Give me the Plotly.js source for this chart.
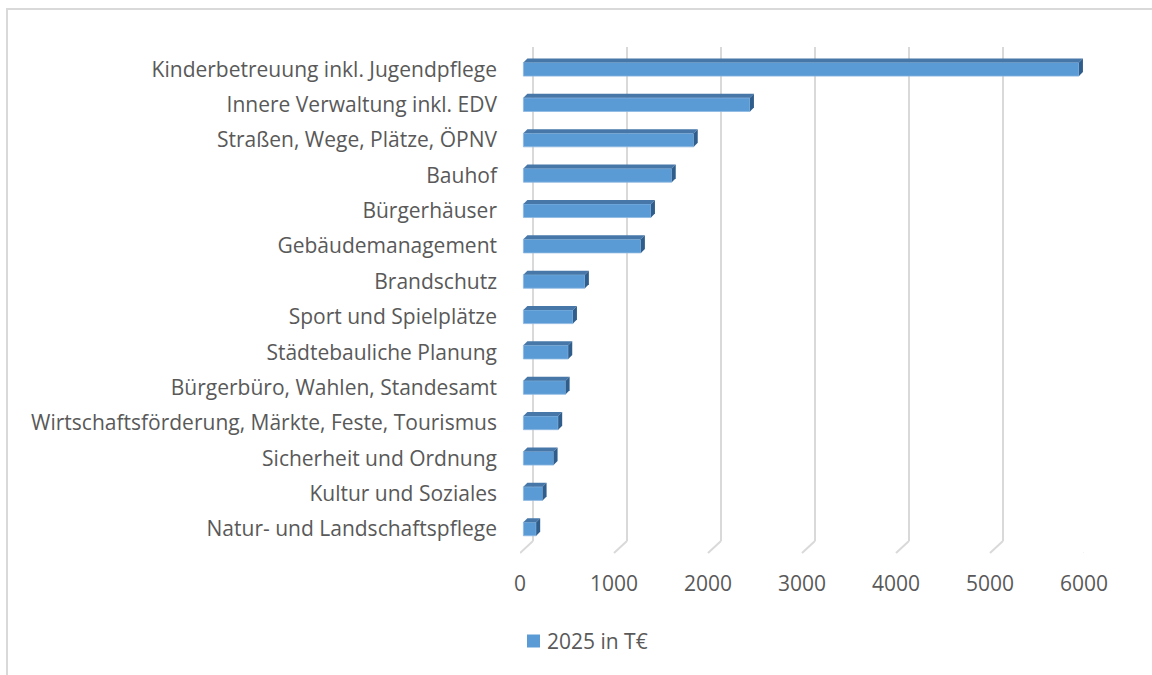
<!DOCTYPE html>
<html>
<head>
<meta charset="utf-8">
<script src="https://cdn.plot.ly/plotly-3.0.1.min.js"></script>
<style>
  html, body { margin: 0; padding: 0; background: #ffffff; overflow: hidden; }
  #chart { position: absolute; left: 0; top: 0; width: 1152px; height: 675px; }
  #frame { position: absolute; left: 6px; top: 8px; width: 1200px; height: 700px;
           border-left: 2px solid #d9d9d9; border-top: 2px solid #d9d9d9; pointer-events: none; }
</style>
</head>
<body>
<div id="chart"></div>
<div id="frame"></div>
<script>
// ---- data ----
const categories = [
  "Kinderbetreuung inkl. Jugendpflege",
  "Innere Verwaltung inkl. EDV",
  "Straßen, Wege, Plätze, ÖPNV",
  "Bauhof",
  "Bürgerhäuser",
  "Gebäudemanagement",
  "Brandschutz",
  "Sport und Spielplätze",
  "Städtebauliche Planung",
  "Bürgerbüro, Wahlen, Standesamt",
  "Wirtschaftsförderung, Märkte, Feste, Tourismus",
  "Sicherheit und Ordnung",
  "Kultur und Soziales",
  "Natur- und Landschaftspflege"
];
const values = [5910, 2410, 1812, 1578, 1357, 1250, 654, 527, 477, 449, 370, 321, 204, 136];
const xTicks = [0, 1000, 2000, 3000, 4000, 5000, 6000];
const seriesName = "2025 in T€";

// ---- geometry (styling) ----
const W = 1152, H = 675;
const mL = 520, mR = 68, mT = 47, mB = 122;
const plotW = W - mL - mR, plotH = H - mT - mB;
const xMax = 6000;
const yTop = -0.631, yBot = 13.68;
const pxX = plotW / xMax;
const pxY = plotH / (yBot - yTop);
const ux = px => px / pxX;
const uy = px => px / pxY;

const barHalf = uy(6.8);
const barBase = ux(3.4);
const dX = ux(4), dY = uy(4);
const gX = ux(13), gYpaper = 12 / plotH;

const pos = categories.map((c, i) => i);
const barColor = '#5b9bd5';

const shapes = [];
xTicks.forEach(t => {
  shapes.push({type: 'line', layer: 'below', xref: 'x', yref: 'paper',
    x0: t + gX, x1: t + gX, y0: gYpaper, y1: 1,
    line: {color: '#d9d9d9', width: 2}});
  shapes.push({type: 'line', layer: 'below', xref: 'x', yref: 'paper',
    x0: t, x1: t + gX, y0: 0, y1: gYpaper,
    line: {color: '#d9d9d9', width: 2}});
});
pos.forEach((p, i) => {
  const x0 = barBase, x1 = barBase + values[i];
  const yt = p - barHalf, yb = p + barHalf;
  shapes.push({type: 'path', layer: 'above', xref: 'x', yref: 'y',
    path: `M${x0},${yt} L${x1},${yt} L${x1 + dX},${yt - dY} L${x0 + dX},${yt - dY} Z`,
    fillcolor: '#4677a8', line: {width: 0}});
  shapes.push({type: 'path', layer: 'above', xref: 'x', yref: 'y',
    path: `M${x1},${yt} L${x1 + dX},${yt - dY} L${x1 + dX},${yb - dY} L${x1},${yb} Z`,
    fillcolor: '#2f5d8c', line: {width: 0}});
});

// legend marker (square) and text
const legY = -(641 - (mT + plotH)) / plotH;
shapes.push({type: 'rect', xref: 'paper', yref: 'paper',
  x0: (527 - mL) / plotW, x1: (540 - mL) / plotW,
  y0: legY - 6.5 / plotH, y1: legY + 6.5 / plotH,
  fillcolor: barColor, line: {width: 0}});

const font = {family: '"Open Sans", Lato, sans-serif', size: 21, color: '#595959'};

const trace = {
  type: 'bar',
  orientation: 'h',
  name: seriesName,
  y: pos,
  x: values,
  base: barBase,
  width: barHalf * 2,
  marker: {color: barColor, line: {color: '#8db8e2', width: 0.8}},
  showlegend: false,
  hoverinfo: 'skip'
};

const layout = {
  width: W, height: H,
  margin: {l: mL, r: mR, t: mT, b: mB, pad: 0},
  paper_bgcolor: 'rgba(0,0,0,0)',
  plot_bgcolor: 'rgba(0,0,0,0)',
  font: font,
  showlegend: false,
  xaxis: {range: [0, xMax], tickvals: xTicks, ticktext: xTicks.map(String),
          showgrid: false, zeroline: false, showline: false, ticks: '',
          ticklabelstandoff: 16, tickfont: font, fixedrange: true},
  yaxis: {range: [yBot, yTop], tickvals: pos, ticktext: categories,
          showgrid: false, zeroline: false, showline: false, ticks: '',
          ticklabelstandoff: 22, tickfont: font, fixedrange: true},
  shapes: shapes,
  annotations: [{xref: 'paper', yref: 'paper', x: (545 - mL) / plotW, y: legY,
    xanchor: 'left', yanchor: 'middle', showarrow: false, text: seriesName, font: font}],
  bargap: 0
};

Plotly.newPlot('chart', [trace], layout, {staticPlot: true, displayModeBar: false});
</script>
</body>
</html>
